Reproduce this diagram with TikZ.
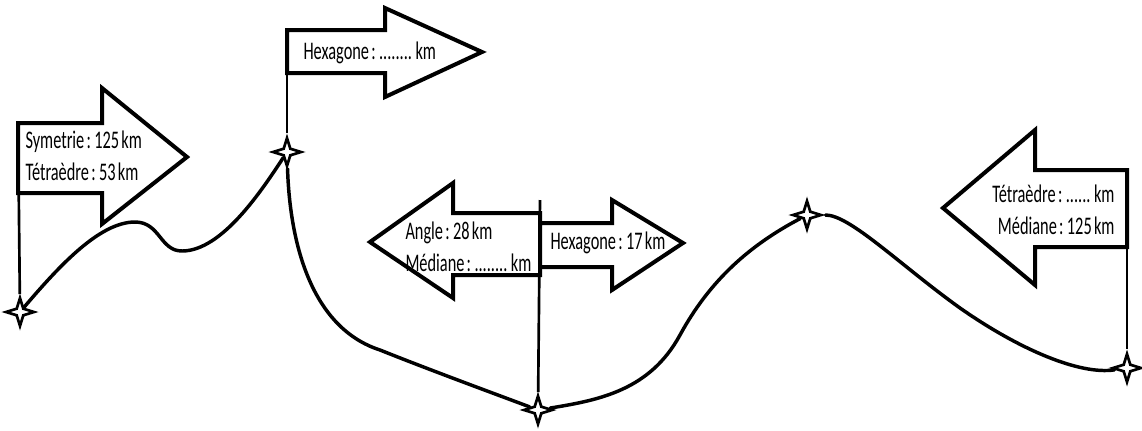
\documentclass[tikz,border=0pt]{standalone}
\usepackage{fontspec}
\usetikzlibrary{shapes.geometric}
\newfontfamily\labelfont[FakeStretch=0.645,WordSpace=0.6]{Carlito}

\tikzset{every picture/.style={line width=0.75pt}}
\tikzset{
  flag/.style={line width=3, line join=miter, fill=white},
  pole/.style={line width=2},
  road/.style={line width=2.6, line cap=round},
  town/.style={star, star points=4, star point ratio=3, draw, fill=white, line width=2, minimum size=21pt, inner sep=0pt},
  lbl/.style={font=\labelfont\fontsize{19}{24}\selectfont, inner sep=0pt}
}

\begin{document}
\begin{tikzpicture}[x=0.75pt,y=0.75pt,yscale=-1,xscale=1]
\useasboundingbox (0,0) rectangle (1142,430);
\fill[white] (0,0) rectangle (1142,430);

%Shape: Stars (towns)
\node[town] (s1) at (20,312) {};
\node[town] (s2) at (287,152) {};
\node[town] (s3) at (538,410) {};
\node[town] (s4) at (807,215) {};
\node[town] (s5) at (1127,368) {};

%Straight Lines: poles
\coordinate (p1) at (18,123);
\coordinate (p2) at (287,30);
\coordinate (p3) at (540,200);
\coordinate (p5) at (1127,170);
\draw [pole] (p1) -- (s1);
\draw [pole] (p2) -- (s2);
\draw [pole] (p3) -- (s3);
\draw [pole] (p5) -- (s5);

%Shape: Right Arrow
\draw [flag] (p1) -- (102,123) -- (102,88) -- (187,157) -- (102,224) -- (102,193) -- (18,193) -- cycle ;
%Shape: Right Arrow
\draw [flag] (p2) -- (385,30) -- (385,8) -- (482,52) -- (385,97) -- (385,73) -- (287,73) -- cycle ;
%Shape: Left Arrow
\draw [flag] (540,213) -- (453,213) -- (453,183) -- (370,242) -- (453,298) -- (453,275) -- (540,275) -- cycle ;
%Shape: Right Arrow
\draw [flag] (540,223) -- (612,223) -- (612,200) -- (683,243) -- (612,290) -- (612,267) -- (540,267) -- cycle ;
%Shape: Left Arrow
\draw [flag] (p5) -- (1035,170) -- (1035,130) -- (943,208) -- (1035,285) -- (1035,247) -- (1127,247) -- cycle ;

%Curve Lines
\draw [road] (s1) .. controls (60,265) and (100,222) .. (135,222) .. controls (160,222) and (160,251) .. (182,251) .. controls (222,251) and (262,190) .. (s2) ;
\draw [road] (s2) .. controls (290,245) and (312,328) .. (380,350) .. controls (430,370) and (490,392) .. (s3) ;
\draw [road] (s3) .. controls (600,400) and (650,390) .. (680,335) .. controls (710,280) and (750,245) .. (s4) ;
\draw [road] (s4) .. controls (850,215) and (900,265) .. (960,308) .. controls (1020,350) and (1080,375) .. (s5) ;

%Text
\node [lbl, anchor=west, align=left] (t1) at (25,156) {Symetrie : 125 km\\Tétraèdre : 53 km};
\node [lbl, anchor=west] (t2) at (303,53) {Hexagone : ........ km};
\node [lbl, anchor=west, align=left] (t3) at (405,247) {Angle : 28 km\\Médiane : ........ km};
\node [lbl, anchor=west] (t4) at (550,243) {Hexagone : 17 km};
\node [lbl, anchor=east, align=right] (t5) at (1115,210) {Tétraèdre : ...... km\\Médiane : 125 km};

\end{tikzpicture}
\end{document}
